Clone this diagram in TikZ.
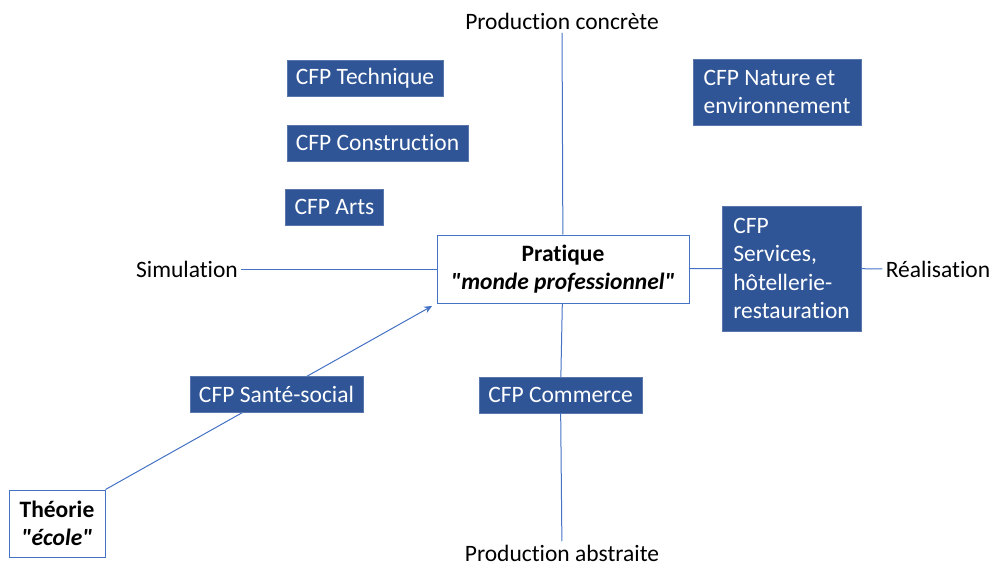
\documentclass[tikz,border=0pt]{standalone}
\usepackage{fontspec}
\setmainfont{Carlito}[Ligatures={TeXOff,NoCommon}]
\usetikzlibrary{arrows.meta}

\definecolor{cfpblue}{HTML}{2F5597}
\definecolor{axisblue}{HTML}{4472C4}

\begin{document}
\begin{tikzpicture} [
  x = 1pt,
  y = -1pt,
  every node/.style = {font = \fontsize{23.5}{28.5}\selectfont},
  cfp/.style = {fill = cfpblue, draw = cfpblue!80!white, text = white,
    inner xsep = 9pt, inner ysep = 0pt, minimum height = 36pt},
  pole/.style = {fill = white, draw = axisblue, line width = 1pt, align = center},
  axis/.style = {draw = axisblue, line width = 1pt},
]
\useasboundingbox (0, 0) rectangle (994, 567);

% axis ends
\node (conc) at (562, 21) {Production concrète};
\node (abst) at (562, 553) {Production abstraite};
\node (simu) at (187, 269) {Simulation};
\node (real) at (938, 269) {Réalisation};

% poles
\node [pole, minimum width = 252pt, minimum height = 68pt] (prat) at (563, 269)
  {\textbf{Pratique}\\\textbf{\textit{"monde professionnel"}}};
\node [pole, minimum width = 96pt, minimum height = 67pt, inner sep = 0pt] (theo) at (57, 523.5)
  {\textbf{Théorie}\\\textbf{\textit{"école"}}};

% CFP boxes
\node [cfp] (tech) at (365, 78) {CFP Technique};
\node [cfp] (cons) at (377.5, 143) {CFP Construction};
\node [cfp] (arts) at (334.5, 207) {CFP Arts};
\node [cfp] (comm) at (560.5, 395) {CFP Commerce};
\node [cfp, align = left, minimum width = 168pt, minimum height = 66pt] (nat) at (777, 92)
  {CFP Nature et\\environnement};
\node [cfp, align = left, minimum width = 139pt, minimum height = 125pt] (serv) at (791.5, 268.5)
  {CFP\\Services,\\hôtellerie-\\restauration};

% axes
\draw [axis] (conc) -- (prat);
\draw [axis] (prat) -- (comm);
\draw [axis] (comm) -- (abst);
\draw [axis] (simu) -- (prat);
\draw [axis] (prat) -- (serv);
\draw [axis] (serv) -- (real);

\draw [axis, -{Stealth[length = 8pt, width = 7pt]}, shorten >= 5pt] (theo.north east) -- (prat.south west);
\node [cfp] (sante) at (276.5, 394) {CFP Santé-social};
\end{tikzpicture}
\end{document}
